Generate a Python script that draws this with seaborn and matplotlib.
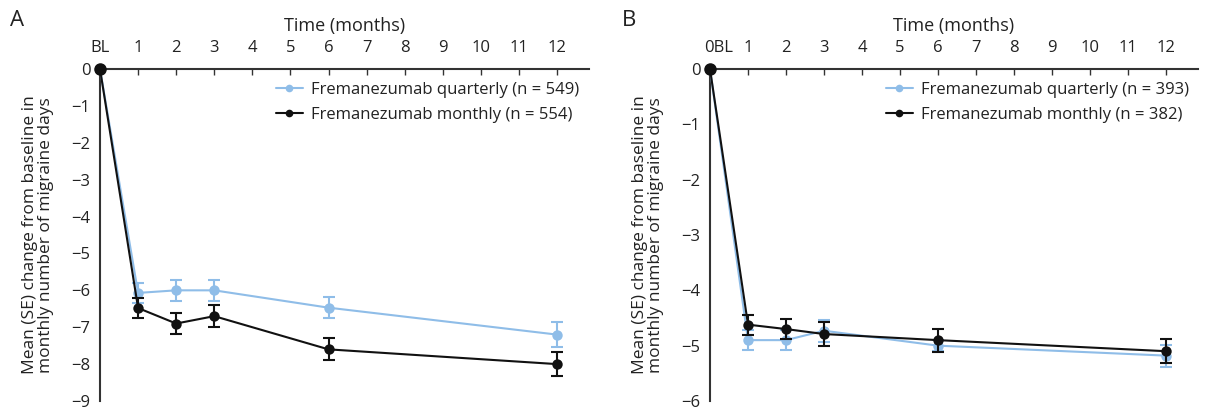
import numpy as np
import pandas as pd
import matplotlib
matplotlib.use("Agg")
import matplotlib.pyplot as plt
import matplotlib.transforms as mtransforms
from matplotlib.lines import Line2D
import seaborn as sns

# ---------------- data ----------------
months = [0, 1, 2, 3, 6, 12]
xtick_pos = list(range(0, 13))
xtick_labels_a = ["BL"] + [str(i) for i in range(1, 13)]
xtick_labels_b = ["0BL"] + [str(i) for i in range(1, 13)]

a_quarterly = [0, -6.07, -6.0, -6.0, -6.47, -7.2]
a_quarterly_se = [0, 0.27, 0.28, 0.28, 0.28, 0.33]
a_monthly = [0, -6.48, -6.9, -6.7, -7.6, -8.0]
a_monthly_se = [0, 0.26, 0.28, 0.29, 0.30, 0.33]
a_labels = ["Fremanezumab quarterly (n = 549)", "Fremanezumab monthly (n = 554)"]
a_yticks = list(range(0, -10, -1))

b_quarterly = [0, -4.9, -4.9, -4.73, -5.0, -5.18]
b_quarterly_se = [0, 0.18, 0.18, 0.2, 0.1, 0.2]
b_monthly = [0, -4.62, -4.7, -4.79, -4.9, -5.1]
b_monthly_se = [0, 0.18, 0.18, 0.22, 0.21, 0.22]
b_labels = ["Fremanezumab quarterly (n = 393)", "Fremanezumab monthly (n = 382)"]
b_yticks = list(range(0, -7, -1))

ylabel = "Mean (SE) change from baseline in\nmonthly number of migraine days"
xlabel = "Time (months)"

# ---------------- style ----------------
sns.set_style("white")
plt.rcParams["font.family"] = ["Open Sans", "DejaVu Sans"]
LIGHT = "#8fbde8"
DARK = "#111111"
TXT = "#222222"
AX = "#333333"

fig = plt.figure(figsize=(12.05, 4.11), dpi=100)

def panel(rect, q, qse, m, mse, labels, yticks, xlabels, letter, letter_x, leg_xy, shift_first=0):
    ax = fig.add_axes(rect)
    df = pd.DataFrame({
        "month": months * 2,
        "value": q + m,
        "group": [labels[0]] * len(months) + [labels[1]] * len(months),
    })
    sns.lineplot(data=df, x="month", y="value", hue="group",
                 palette=[LIGHT, DARK], marker="o", markersize=7.5,
                 markeredgewidth=0, linewidth=1.5, ax=ax, legend=False,
                 clip_on=False, zorder=3)
    ax.errorbar(months[1:], q[1:], yerr=qse[1:], fmt="none", ecolor=LIGHT,
                elinewidth=1.5, capsize=4, capthick=1.5, zorder=2)
    ax.errorbar(months[1:], m[1:], yerr=mse[1:], fmt="none", ecolor=DARK,
                elinewidth=1.5, capsize=4, capthick=1.5, zorder=4)
    ax.plot([months[0]], [m[0]], "o", color=DARK, markersize=8, clip_on=False, zorder=6)

    ax.set_xlim(0, 12.84)
    ax.set_ylim(yticks[-1], 0)
    ax.set_xticks(xtick_pos)
    ax.set_xticklabels(xlabels)
    ax.set_yticks(yticks)
    ax.set_yticklabels([str(v) if v == 0 else "\u2212" + str(-v) for v in yticks])
    ax.xaxis.tick_top()
    ax.xaxis.set_label_position("top")
    ax.set_xlabel(xlabel, fontsize=13, color=TXT, labelpad=7)
    ax.set_ylabel(ylabel, fontsize=12.5, color=TXT, labelpad=12, linespacing=1.05)
    ax.tick_params(axis="x", direction="in", length=4, width=1, colors=AX,
                   labelsize=12, labelcolor=TXT, pad=9, top=True, bottom=False)
    ax.tick_params(axis="y", direction="out", length=4, width=1, colors=AX,
                   labelsize=12, labelcolor=TXT, pad=3)
    for s in ["right", "bottom"]:
        ax.spines[s].set_visible(False)
    for s in ["top", "left"]:
        ax.spines[s].set_color(AX)
        ax.spines[s].set_linewidth(1.5)
    ax.grid(False)
    if shift_first:
        lbl = ax.get_xticklabels()[0]
        lbl.set_transform(lbl.get_transform() +
                          mtransforms.ScaledTranslation(shift_first / 100, 0, fig.dpi_scale_trans))

    handles = [
        Line2D([0], [0], color=LIGHT, marker="o", markersize=5.5, markeredgewidth=0, linewidth=1.5),
        Line2D([0], [0], color=DARK, marker="o", markersize=5.5, markeredgewidth=0, linewidth=1.5),
    ]
    fig.legend(handles, labels, loc="upper left", bbox_to_anchor=leg_xy,
               bbox_transform=fig.transFigure, frameon=False, fontsize=12,
               handlelength=1.6, handletextpad=0.5, labelspacing=0.55,
               borderaxespad=0, borderpad=0, labelcolor=TXT)
    fig.text(letter_x, 1 - 20 / 411, letter, fontsize=16, color=TXT,
             ha="left", va="center")
    return ax

panel([100 / 1205, 1 - 401 / 411, 489 / 1205, 332 / 411],
      a_quarterly, a_quarterly_se, a_monthly, a_monthly_se, a_labels,
      a_yticks, xtick_labels_a, "A", 10 / 1205, (276 / 1205, 1 - 82 / 411))
panel([710 / 1205, 1 - 401 / 411, 488 / 1205, 332 / 411],
      b_quarterly, b_quarterly_se, b_monthly, b_monthly_se, b_labels,
      b_yticks, xtick_labels_b, "B", 622 / 1205, (886 / 1205, 1 - 82 / 411), shift_first=9)

fig.savefig("out.png", dpi=100)
